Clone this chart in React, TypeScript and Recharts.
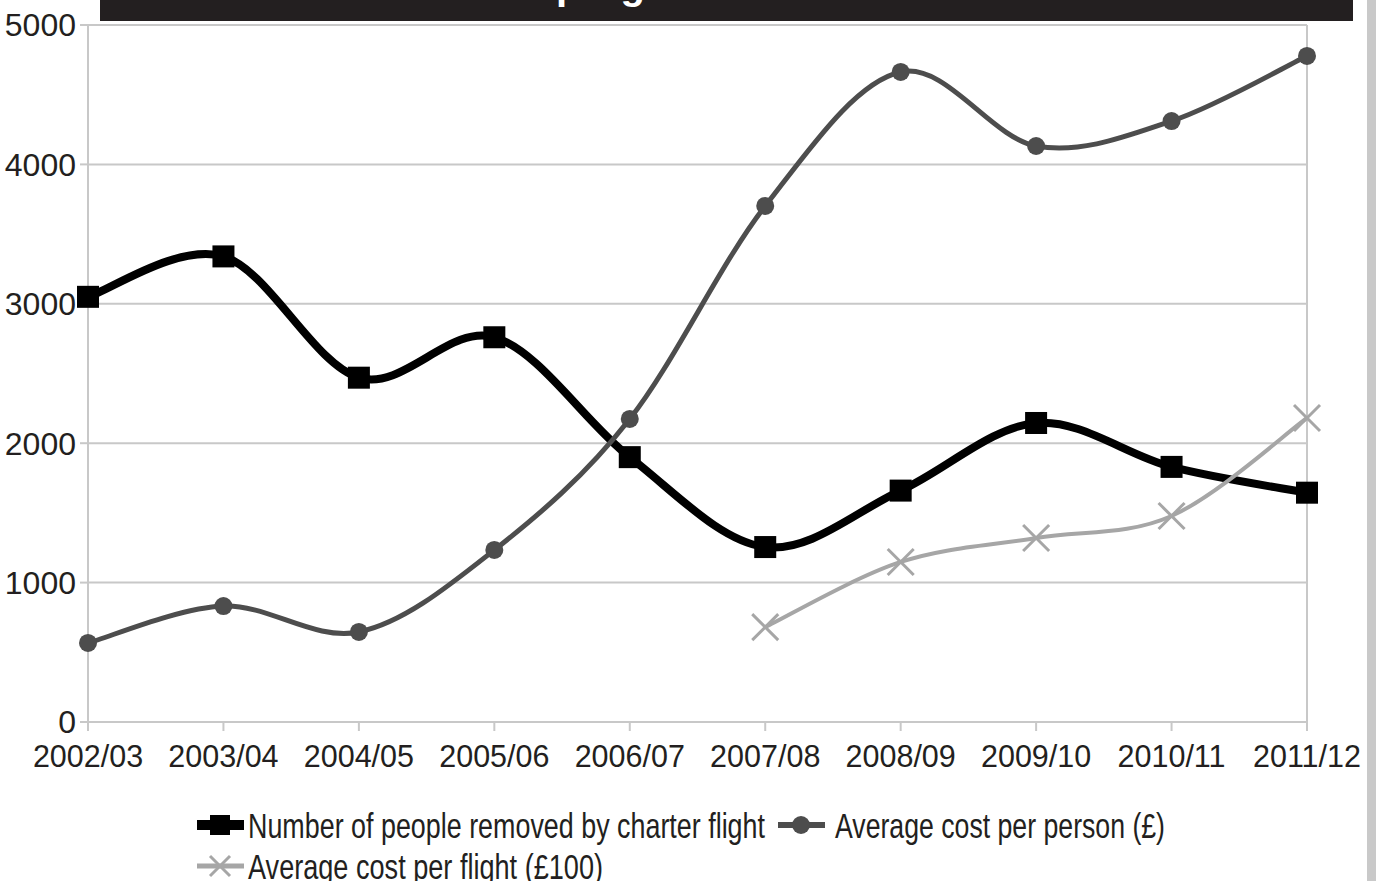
import React from 'react';
import { LineChart, Line, XAxis, YAxis, CartesianGrid, ReferenceLine, Legend } from 'recharts';

const years = ['2002/03', '2003/04', '2004/05', '2005/06', '2006/07', '2007/08', '2008/09', '2009/10', '2010/11', '2011/12'];
const peopleRemoved = [3050, 3340, 2470, 2760, 1900, 1255, 1660, 2145, 1830, 1645];
const costPerPerson = [567, 832, 646, 1234, 2174, 3702, 4663, 4132, 4311, 4778];
const costPerFlight = [null, null, null, null, null, 681, 1148, 1320, 1478, 2181];
const yTicks = [0, 1000, 2000, 3000, 4000, 5000];

const BLACK = '#000000';
const DARK = '#4d4d4d';
const LIGHT = '#a6a6a6';
const GRID = '#c8c8c8';
const TEXT = '#231f20';
const FONT = "'Liberation Sans', Arial, sans-serif";

const data = years.map((year, i) => ({
  year,
  removed: peopleRemoved[i],
  perPerson: costPerPerson[i],
  perFlight: costPerFlight[i],
}));

// smooth curve like the spreadsheet one (catmull-rom through every point)
function smoothCurve(context: any) {
  let pts: [number, number][] = [];
  return {
    areaStart() {},
    areaEnd() {},
    lineStart() {
      pts = [];
    },
    lineEnd() {
      const n = pts.length;
      if (!n) return;
      context.moveTo(pts[0][0], pts[0][1]);
      for (let i = 0; i < n - 1; i++) {
        const p0 = pts[Math.max(i - 1, 0)];
        const p1 = pts[i];
        const p2 = pts[i + 1];
        const p3 = pts[Math.min(i + 2, n - 1)];
        context.bezierCurveTo(
          p1[0] + (p2[0] - p0[0]) / 6,
          p1[1] + (p2[1] - p0[1]) / 6,
          p2[0] - (p3[0] - p1[0]) / 6,
          p2[1] - (p3[1] - p1[1]) / 6,
          p2[0],
          p2[1],
        );
      }
    },
    point(x: number, y: number) {
      pts.push([+x, +y]);
    },
  };
}

const SquareDot = (props: any) => {
  const { cx, cy, index, value } = props;
  if (cx == null || cy == null || value == null) return <g key={index} />;
  return <rect key={index} x={cx - 11} y={cy - 11} width={22} height={22} fill={BLACK} />;
};

const CircleDot = (props: any) => {
  const { cx, cy, index, value } = props;
  if (cx == null || cy == null || value == null) return <g key={index} />;
  return <circle key={index} cx={cx} cy={cy} r={9} fill={DARK} />;
};

const CrossDot = (props: any) => {
  const { cx, cy, index, value } = props;
  if (cx == null || cy == null || value == null) return <g key={index} />;
  return (
    <g key={index} stroke={LIGHT} strokeWidth={3}>
      <line x1={cx - 13} y1={cy - 13} x2={cx + 13} y2={cy + 13} />
      <line x1={cx - 13} y1={cy + 13} x2={cx + 13} y2={cy - 13} />
    </g>
  );
};

// legend is a narrow face in the original, so the text is squeezed to its width
const legendItems = [
  { key: 'removed', label: 'Number of people removed by charter flight', color: BLACK, lw: 10, marker: 'square', x: 197, y: 44, textX: 248, textW: 517 },
  { key: 'perPerson', label: 'Average cost per person (\u00a3)', color: DARK, lw: 6, marker: 'circle', x: 778, y: 44, textX: 835, textW: 330 },
  { key: 'perFlight', label: 'Average cost per flight (\u00a3100)', color: LIGHT, lw: 5, marker: 'cross', x: 197, y: 85, textX: 248, textW: 355 },
];

const ChartLegend = () => (
  <svg width={1376} height={100} style={{ display: 'block' }}>
    {legendItems.map((item) => (
      <g key={item.key}>
        <line x1={item.x} y1={item.y} x2={item.x + 47} y2={item.y} stroke={item.color} strokeWidth={item.lw} />
        {item.marker === 'square' && <rect x={item.x + 13} y={item.y - 10} width={20} height={20} fill={item.color} />}
        {item.marker === 'circle' && <circle cx={item.x + 23} cy={item.y} r={9} fill={item.color} />}
        {item.marker === 'cross' && (
          <g stroke={item.color} strokeWidth={3}>
            <line x1={item.x + 13} y1={item.y - 10} x2={item.x + 33} y2={item.y + 10} />
            <line x1={item.x + 13} y1={item.y + 10} x2={item.x + 33} y2={item.y - 10} />
          </g>
        )}
        <text
          x={item.textX}
          y={item.y + 13}
          fontFamily={FONT}
          fontSize={35}
          fill={TEXT}
          textLength={item.textW}
          lengthAdjust="spacingAndGlyphs"
        >
          {item.label}
        </text>
      </g>
    ))}
  </svg>
);

export default function App() {
  return (
    <div style={{ position: 'absolute', left: 0, top: 0, width: 1376, height: 881, background: '#fff', overflow: 'hidden' }}>
      <LineChart width={1376} height={881} data={data} margin={{ top: 25, right: 69, bottom: 0, left: 0 }}>
        <CartesianGrid stroke={GRID} strokeWidth={2} vertical={false} />
        <XAxis
          dataKey="year"
          height={59}
          tick={{ fill: TEXT, fontSize: 30.5, fontFamily: FONT }}
          tickSize={9}
          tickMargin={14}
          axisLine={{ stroke: GRID, strokeWidth: 2 }}
          tickLine={{ stroke: GRID, strokeWidth: 2 }}
          interval={0}
        />
        <YAxis
          width={88}
          domain={[0, 5000]}
          ticks={yTicks}
          tick={{ fill: TEXT, fontSize: 32, fontFamily: FONT }}
          tickSize={8}
          tickMargin={4}
          axisLine={{ stroke: GRID, strokeWidth: 2 }}
          tickLine={{ stroke: GRID, strokeWidth: 2 }}
        />
        <ReferenceLine x="2011/12" stroke={GRID} strokeWidth={2} />
        <Legend verticalAlign="bottom" align="left" height={100} content={() => <ChartLegend />} />
        <Line
          dataKey="removed"
          name="Number of people removed by charter flight"
          type={smoothCurve as any}
          stroke={BLACK}
          strokeWidth={8}
          dot={SquareDot}
          activeDot={false}
          isAnimationActive={false}
        />
        <Line
          dataKey="perPerson"
          name="Average cost per person (£)"
          type={smoothCurve as any}
          stroke={DARK}
          strokeWidth={5}
          dot={CircleDot}
          activeDot={false}
          isAnimationActive={false}
        />
        <Line
          dataKey="perFlight"
          name="Average cost per flight (£100)"
          type={smoothCurve as any}
          stroke={LIGHT}
          strokeWidth={4}
          dot={CrossDot}
          activeDot={false}
          isAnimationActive={false}
        />
      </LineChart>
      <div
        style={{
          position: 'absolute',
          left: 100,
          top: 0,
          width: 1253,
          height: 21,
          background: '#231f20',
          overflow: 'hidden',
        }}
      >
        <div
          style={{
            position: 'absolute',
            left: 456,
            top: -39,
            color: '#fff',
            fontFamily: FONT,
            fontWeight: 'bold',
            fontSize: 40,
            lineHeight: '48px',
            whiteSpace: 'nowrap',
          }}
        >
          programme costs
        </div>
      </div>
      <div style={{ position: 'absolute', left: 1367, top: 0, width: 9, height: 881, background: '#c9c9c9' }} />
    </div>
  );
}
